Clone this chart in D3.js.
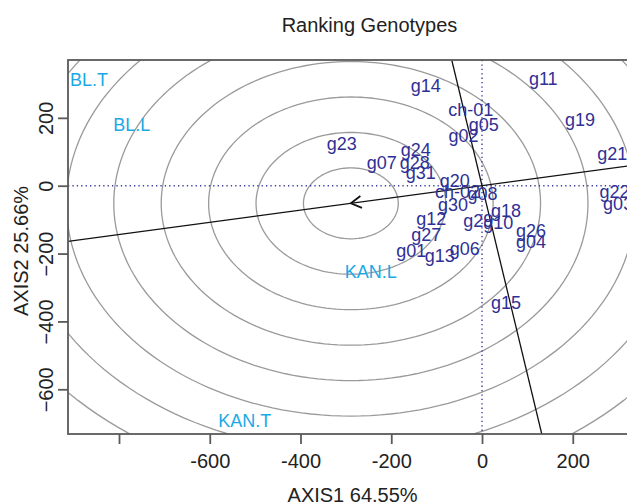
<!DOCTYPE html>
<html>
<head>
<meta charset="utf-8">
<script src="https://cdn.jsdelivr.net/npm/d3@7"></script>
<style>
  body { margin: 0; background: #fff; }
  text { font-family: "Liberation Sans", Arial, Helvetica, sans-serif; }
</style>
</head>
<body>
<div id="chart"></div>
<script>
// genotype scores (AXIS1, AXIS2)
var genoNames = ["g01","g02","g03","g04","g05","g06","g07","g08","g10","g11","g12","g13","g14","g15",
                 "g18","g19","g20","g21","g22","g23","g24","g26","g27","g28","g29","g30","g31","ch-01","ch-02"];
var genoX = [-156, -41, 300, 108, 4, -38, -221, 1, 36, 135, -112, -93, -124, 53,
             53, 216, -60, 287, 292, -309, -146, 108, -123, -148, -8, -64, -135, -25, -54];
var genoY = [-192, 147, -52, -166, 179, -185, 67, -25, -108, 314, -96, -207, 294, -345,
             -75, 194, 15, 94, -18, 123, 105, -134, -143, 68, -103, -57, 38, 225, -18];

// environment scores
var envNames = ["BL.T", "BL.L", "KAN.L", "KAN.T"];
var envX = [-866, -772, -245, -523];
var envY = [312, 179, -254, -692];

// ideal point (arrow tip / ring centre) and ring radii
var idealX = -289;
var idealY = -52;
var ringRadii = [104.5, 209, 313.5, 418, 522.5, 627, 731.5, 836, 940.5, 1045, 1149.5];

var xTicks = [-800, -600, -400, -200, 0, 200];
var yTicks = [-600, -400, -200, 0, 200];

var W = 627, H = 504;
var pLeft = 68, pRight = 671, pTop = 60, pBottom = 434;

var x = d3.scaleLinear().domain([-912.4, 416.5]).range([pLeft, pRight]);
var y = d3.scaleLinear().domain([-731.8, 370.5]).range([pBottom, pTop]);

var svg = d3.select("#chart").append("svg")
    .attr("width", W)
    .attr("height", H);

svg.append("rect").attr("width", W).attr("height", H).attr("fill", "#fff");

svg.append("clipPath").attr("id", "plotclip")
  .append("rect")
    .attr("x", pLeft).attr("y", pTop)
    .attr("width", pRight - pLeft).attr("height", pBottom - pTop);

var plot = svg.append("g").attr("clip-path", "url(#plotclip)");

// concentric rings around the ideal genotype (circles in data units)
var ellipse = d3.line()
    .x(function(d){ return x(d[0]); })
    .y(function(d){ return y(d[1]); });

plot.selectAll("path.ring")
    .data(ringRadii)
    .enter()
    .append("path")
    .attr("class", "ring")
    .attr("d", function(r){
        var pts = d3.range(0, 361, 2).map(function(a){
            var t = a * Math.PI / 180;
            return [idealX + r * Math.cos(t), idealY + r * Math.sin(t)];
        });
        return ellipse(pts);
    })
    .attr("fill", "none")
    .attr("stroke", "#9a9a9a")
    .attr("stroke-width", 1.3);

// dotted reference lines through origin
plot.append("line")
    .attr("x1", pLeft).attr("x2", pRight)
    .attr("y1", y(0)).attr("y2", y(0))
    .attr("stroke", "#3a3aa0").attr("stroke-width", 1.4)
    .attr("stroke-dasharray", "1.3 3.1");
plot.append("line")
    .attr("x1", x(0)).attr("x2", x(0))
    .attr("y1", pTop).attr("y2", pBottom)
    .attr("stroke", "#3a3aa0").attr("stroke-width", 1.4)
    .attr("stroke-dasharray", "1.3 3.1");

// average environment axis and its perpendicular
var slope = idealY / idealX;
var xd = x.domain(), yd = y.domain();
plot.append("line")
    .attr("x1", x(xd[0])).attr("y1", y(slope * xd[0]))
    .attr("x2", x(xd[1])).attr("y2", y(slope * xd[1]))
    .attr("stroke", "#111").attr("stroke-width", 1.3);
plot.append("line")
    .attr("x1", x(-slope * yd[0])).attr("y1", y(yd[0]))
    .attr("x2", x(-slope * yd[1])).attr("y2", y(yd[1]))
    .attr("stroke", "#111").attr("stroke-width", 1.3);

// arrow head at the ideal point
var tipX = x(idealX), tipY = y(idealY);
var back = Math.atan2(y(0) - tipY, x(0) - tipX);
var headLen = 12;
var head = [back - Math.PI / 6, back + Math.PI / 6].map(function(a){
    return [tipX + headLen * Math.cos(a), tipY + headLen * Math.sin(a)];
});
plot.append("path")
    .attr("d", "M" + head[0] + "L" + tipX + "," + tipY + "L" + head[1])
    .attr("fill", "none")
    .attr("stroke", "#111")
    .attr("stroke-width", 1.8);

// environment labels
plot.selectAll("text.env")
    .data(envNames)
    .enter()
    .append("text")
    .attr("class", "env")
    .attr("x", function(d, i){ return x(envX[i]); })
    .attr("y", function(d, i){ return y(envY[i]); })
    .attr("dy", "0.35em")
    .attr("text-anchor", "middle")
    .attr("font-size", 18)
    .attr("fill", "#1aa9e6")
    .text(function(d){ return d; });

// genotype labels
plot.selectAll("text.geno")
    .data(genoNames)
    .enter()
    .append("text")
    .attr("class", "geno")
    .attr("x", function(d, i){ return x(genoX[i]); })
    .attr("y", function(d, i){ return y(genoY[i]); })
    .attr("dy", "0.35em")
    .attr("text-anchor", "middle")
    .attr("font-size", 18)
    .attr("fill", "#2f3095")
    .text(function(d){ return d; });

// frame
svg.append("rect")
    .attr("x", pLeft).attr("y", pTop)
    .attr("width", pRight - pLeft).attr("height", pBottom - pTop)
    .attr("fill", "none")
    .attr("stroke", "#5a5a5a")
    .attr("stroke-width", 1.8);

// axes
var gx = svg.append("g")
    .attr("transform", "translate(0," + pBottom + ")")
    .call(d3.axisBottom(x).tickValues(xTicks).tickSize(10).tickPadding(10)
          .tickFormat(function(d){ return d === -800 ? "" : d; }));
gx.select(".domain").remove();
gx.selectAll(".tick line").attr("stroke", "#5a5a5a").attr("stroke-width", 1.8);
gx.selectAll(".tick text")
    .attr("font-size", 20)
    .attr("font-family", "Liberation Sans, Arial, sans-serif")
    .attr("fill", "#222");

var gy = svg.append("g")
    .attr("transform", "translate(" + pLeft + ",0)")
    .call(d3.axisLeft(y).tickValues(yTicks).tickSize(10).tickPadding(10));
gy.select(".domain").remove();
gy.selectAll(".tick line").attr("stroke", "#5a5a5a").attr("stroke-width", 1.8);
gy.selectAll(".tick text")
    .attr("x", 0).attr("dy", null)
    .attr("transform", "translate(-14.7,0) rotate(-90)")
    .attr("text-anchor", "middle")
    .attr("font-size", 20)
    .attr("font-family", "Liberation Sans, Arial, sans-serif")
    .attr("fill", "#222");

// titles
svg.append("text")
    .attr("x", 369.5).attr("y", 32.3)
    .attr("text-anchor", "middle")
    .attr("font-size", 20)
    .attr("fill", "#222")
    .text("Ranking Genotypes");

svg.append("text")
    .attr("x", 352.6).attr("y", 502)
    .attr("text-anchor", "middle")
    .attr("font-size", 20)
    .attr("fill", "#222")
    .text("AXIS1 64.55%");

svg.append("text")
    .attr("transform", "translate(28.3,251) rotate(-90)")
    .attr("text-anchor", "middle")
    .attr("font-size", 20)
    .attr("fill", "#222")
    .text("AXIS2 25.66%");
</script>
</body>
</html>
